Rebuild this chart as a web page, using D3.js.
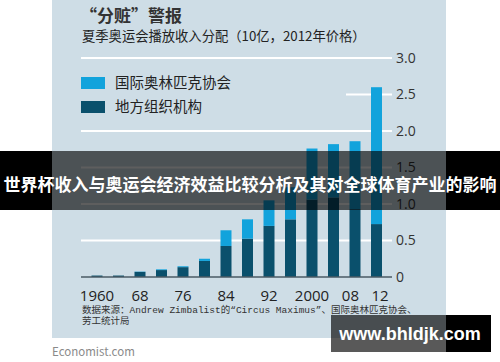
<!DOCTYPE html>
<html>
<head>
<meta charset="utf-8">
<script src="https://cdn.jsdelivr.net/npm/d3@7"></script>
<style>
  html, body { margin: 0; padding: 0; background: #fff; }
  svg { display: block; }
  text { font-family: "Noto Sans CJK SC", "Noto Sans", sans-serif; }
</style>
</head>
<body>
<div id="chart"></div>
<script>
// summer olympics broadcast revenue, $bn at 2012 prices
var years = [1960, 1964, 1968, 1972, 1976, 1980, 1984, 1988, 1992, 1996, 2000, 2004, 2008, 2012];
var local = [0.02, 0.02, 0.07, 0.095, 0.135, 0.22, 0.425, 0.525, 0.70, 0.79, 1.06, 1.09, 0.93, 0.725];
var ioc   = [0, 0, 0.004, 0.01, 0.012, 0.03, 0.215, 0.265, 0.35, 0.44, 0.70, 0.73, 0.93, 1.875];
var yTicks = [0, 0.5, 1, 1.5, 2, 2.5, 3];
var xLabels = [[1960, "1960"], [1968, "68"], [1976, "76"], [1984, "84"], [1992, "92"], [2000, "2000"], [2008, "08"], [2012, "12"]];
var legendNames = ["国际奥林匹克协会", "地方组织机构"];

var W = 500, H = 362;
var panelColor = '#cedde6';
var lightBlue = '#12a3dc';
var darkBlue = '#0a506c';

var svg = d3.select('#chart')
    .append('svg')
    .attr('width', W)
    .attr('height', H);

// background image area
svg.append('rect')
    .attr('x', 52).attr('y', 0)
    .attr('width', 394).attr('height', 338)
    .style('fill', panelColor);

var x = d3.scalePoint().domain(years).range([97, 376.5]);
var y = d3.scaleLinear().domain([0, 3]).range([277, 58]);
var barW = 11;

// gridlines (2.5 one is hidden behind the legend on the left)
svg.selectAll('.grid')
    .data(yTicks.filter(function (d) { return d > 0; }))
    .enter().append('line')
    .attr('class', 'grid')
    .attr('x1', function (d) { return d === 2.5 ? 346 : 81; })
    .attr('x2', 392)
    .attr('y1', function (d) { return y(d); })
    .attr('y2', function (d) { return y(d); })
    .style('stroke', '#fff')
    .style('stroke-width', 2);

var rows = years.map(function (yr, i) {
    return {year: yr, local: local[i], ioc: ioc[i]};
});

var stack = d3.stack().keys(['local', 'ioc'])(rows);
var colours = {local: darkBlue, ioc: lightBlue};

svg.selectAll('.layer')
    .data(stack)
    .enter().append('g')
    .attr('class', 'layer')
    .style('fill', function (d) { return colours[d.key]; })
    .selectAll('rect')
    .data(function (d) { return d; })
    .enter().append('rect')
    .attr('x', function (d) { return x(d.data.year) - barW / 2; })
    .attr('width', barW)
    .attr('y', function (d) { return y(d[1]); })
    .attr('height', function (d) { return y(d[0]) - y(d[1]); });

// baseline
svg.append('line')
    .attr('x1', 81).attr('x2', 392)
    .attr('y1', y(0)).attr('y2', y(0))
    .style('stroke', '#4a5a64')
    .style('stroke-width', 1.5);

// right axis labels
var yAxis = d3.axisRight(y)
    .tickValues(yTicks)
    .tickSize(0)
    .tickPadding(4)
    .tickFormat(function (d) { return d === 0 ? '0' : d3.format('.1f')(d); });

var ya = svg.append('g')
    .attr('transform', 'translate(392,0)')
    .call(yAxis);
ya.select('.domain').remove();
ya.selectAll('text')
    .style('font-family', '"Open Sans", "Noto Sans", sans-serif')
    .style('font-size', '14px')
    .style('fill', '#333');

// x labels
svg.selectAll('.xlab')
    .data(xLabels)
    .enter().append('text')
    .attr('class', 'xlab')
    .attr('x', function (d) { return x(d[0]); })
    .attr('y', 301)
    .attr('text-anchor', function (d) {
        if (d[1] === '08') return 'end';
        if (d[1] === '12') return 'start';
        return 'middle';
    })
    .attr('dx', function (d) {
        if (d[1] === '08') return 4;
        if (d[1] === '12') return -5;
        return 0;
    })
    .style('font-family', '"Open Sans", "Noto Sans", sans-serif')
    .style('font-size', '15px')
    .style('fill', '#222')
    .text(function (d) { return d[1]; });

// legend
var legend = svg.selectAll('.legend')
    .data(legendNames)
    .enter().append('g')
    .attr('class', 'legend')
    .attr('transform', function (d, i) { return 'translate(81,' + (77 + i * 24) + ')'; });

legend.append('rect')
    .attr('width', 24).attr('height', 12)
    .style('fill', function (d, i) { return i === 0 ? lightBlue : darkBlue; });

legend.append('text')
    .attr('x', 34).attr('y', 11)
    .style('font-size', '14.5px')
    .style('fill', '#222')
    .text(function (d) { return d; });

// titles
svg.append('text')
    .attr('x', 80).attr('y', 22)
    .style('font-size', '17px')
    .style('font-weight', 'bold')
    .style('fill', '#333')
    .text('“分赃”警报');

svg.append('text')
    .attr('x', 82).attr('y', 41)
    .style('font-size', '13.3px')
    .style('fill', '#222')
    .text('夏季奥运会播放收入分配（10亿，2012年价格）');

// source
var src = svg.append('text')
    .attr('x', 82).attr('y', 313)
    .style('font-family', '"Liberation Mono", "Noto Sans CJK SC", monospace')
    .style('font-size', '9.5px')
    .style('fill', '#333');
src.append('tspan').text('数据来源：Andrew Zimbalist的“Circus Maximus”、国际奥林匹克协会、');
src.append('tspan').attr('x', 82).attr('dy', 11).text('劳工统计局');

svg.append('text')
    .attr('x', 52).attr('y', 356)
    .style('font-size', '11.5px')
    .style('fill', '#8a8a8a')
    .text('Economist.com');

// banner overlay
function overlay(x0, y0, w, h) {
    svg.append('rect')
        .attr('x', x0).attr('y', y0).attr('width', w).attr('height', h)
        .style('fill', '#000');
}
overlay(0, 151, 52, 59);
overlay(446, 151, 54, 59);
svg.append('rect')
    .attr('x', 52).attr('y', 151).attr('width', 394).attr('height', 59)
    .style('fill', '#000').style('fill-opacity', 0.63);

svg.append('text')
    .attr('x', 250).attr('y', 191)
    .attr('text-anchor', 'middle')
    .style('font-size', '17px')
    .style('font-weight', 'bold')
    .style('fill', '#fff')
    .text('世界杯收入与奥运会经济效益比较分析及其对全球体育产业的影响');

// watermark
svg.append('rect')
    .attr('x', 331).attr('y', 315).attr('width', 115).attr('height', 37)
    .style('fill', '#000').style('fill-opacity', 0.65);
overlay(446, 315, 45, 37);

svg.append('text')
    .attr('x', 410).attr('y', 340)
    .attr('text-anchor', 'middle')
    .style('font-family', '"Liberation Sans", Arial, sans-serif')
    .style('font-size', '18px')
    .style('font-weight', 'bold')
    .style('fill', '#fff')
    .text('www.bhldjk.com');
</script>
</body>
</html>
